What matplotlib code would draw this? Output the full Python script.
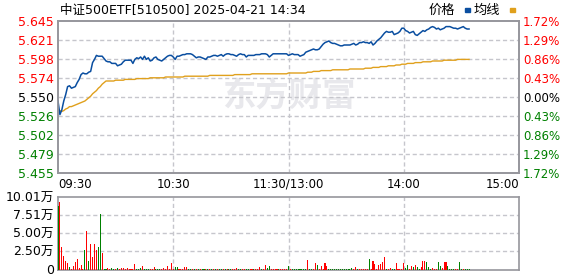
"""
Intraday minute chart: price, average price and volume.
"""
import matplotlib
matplotlib.use('Agg')
import matplotlib.pyplot as plt
from matplotlib.patches import Rectangle
import numpy as np

plt.rcParams['font.family'] = ['DejaVu Sans', 'Noto Sans CJK SC']

###############################################################################
# Data (one point per minute from 09:30 to 14:34).

title = '中证500ETF[510500] 2025-04-21 14:34'
pre_close = 5.550

price = [
    5.545, 5.528, 5.534, 5.545, 5.553, 5.563, 5.564, 5.561, 5.562, 5.563,
    5.568, 5.572, 5.578, 5.580, 5.579, 5.579, 5.581, 5.582, 5.593, 5.597,
    5.602, 5.601, 5.601, 5.601, 5.598, 5.595, 5.594, 5.594, 5.592, 5.592,
    5.592, 5.589, 5.590, 5.591, 5.594, 5.596, 5.596, 5.596, 5.596, 5.592,
    5.597, 5.599, 5.598, 5.600, 5.597, 5.601, 5.597, 5.599, 5.595, 5.596,
    5.599, 5.600, 5.597, 5.596, 5.595, 5.597, 5.599, 5.601, 5.602, 5.602,
    5.600, 5.597, 5.601, 5.601, 5.602, 5.603, 5.603, 5.604, 5.604, 5.604,
    5.603, 5.601, 5.599, 5.600, 5.600, 5.599, 5.598, 5.597, 5.600, 5.600,
    5.601, 5.602, 5.602, 5.601, 5.602, 5.603, 5.601, 5.603, 5.604, 5.604,
    5.603, 5.603, 5.602, 5.601, 5.603, 5.604, 5.603, 5.603, 5.600, 5.602,
    5.602, 5.602, 5.602, 5.603, 5.603, 5.603, 5.604, 5.604, 5.604, 5.603,
    5.600, 5.602, 5.604, 5.604, 5.604, 5.604, 5.604, 5.604, 5.604, 5.604,
    5.602, 5.603, 5.604, 5.603, 5.603, 5.603, 5.601, 5.602, 5.603, 5.606,
    5.607, 5.608, 5.609, 5.610, 5.609, 5.609, 5.610, 5.613, 5.616, 5.618,
    5.619, 5.620, 5.618, 5.617, 5.617, 5.616, 5.615, 5.614, 5.614, 5.615,
    5.615, 5.615, 5.615, 5.616, 5.617, 5.615, 5.616, 5.618, 5.618, 5.619,
    5.618, 5.618, 5.617, 5.619, 5.615, 5.617, 5.620, 5.622, 5.624, 5.627,
    5.630, 5.632, 5.631, 5.631, 5.632, 5.628, 5.629, 5.630, 5.632, 5.636,
    5.636, 5.633, 5.632, 5.630, 5.631, 5.632, 5.628, 5.627, 5.629, 5.631,
    5.633, 5.632, 5.634, 5.635, 5.637, 5.638, 5.637, 5.635, 5.636, 5.634,
    5.635, 5.636, 5.638, 5.638, 5.638, 5.637, 5.636, 5.636, 5.635, 5.636,
    5.637, 5.638, 5.636, 5.635, 5.635,
]

avg_price = [
    5.534, 5.533, 5.532, 5.533, 5.535, 5.536, 5.538, 5.538, 5.539, 5.540,
    5.541, 5.542, 5.543, 5.544, 5.545, 5.547, 5.549, 5.551, 5.554, 5.556,
    5.558, 5.561, 5.563, 5.566, 5.568, 5.570, 5.570, 5.570, 5.570, 5.570,
    5.571, 5.571, 5.571, 5.571, 5.571, 5.572, 5.572, 5.572, 5.572, 5.572,
    5.572, 5.573, 5.573, 5.573, 5.573, 5.573, 5.573, 5.573, 5.574, 5.574,
    5.574, 5.574, 5.574, 5.574, 5.574, 5.574, 5.575, 5.575, 5.575, 5.575,
    5.575, 5.575, 5.575, 5.575, 5.575, 5.575, 5.576, 5.576, 5.576, 5.576,
    5.576, 5.576, 5.576, 5.576, 5.576, 5.576, 5.576, 5.576, 5.576, 5.577,
    5.577, 5.577, 5.577, 5.577, 5.577, 5.577, 5.577, 5.577, 5.577, 5.577,
    5.577, 5.577, 5.578, 5.578, 5.578, 5.578, 5.578, 5.578, 5.578, 5.578,
    5.578, 5.579, 5.579, 5.579, 5.579, 5.579, 5.579, 5.579, 5.579, 5.579,
    5.579, 5.579, 5.579, 5.579, 5.579, 5.579, 5.579, 5.579, 5.579, 5.579,
    5.580, 5.580, 5.580, 5.580, 5.580, 5.580, 5.580, 5.580, 5.580, 5.580,
    5.581, 5.581, 5.581, 5.582, 5.582, 5.582, 5.582, 5.583, 5.583, 5.583,
    5.583, 5.583, 5.583, 5.584, 5.584, 5.584, 5.584, 5.584, 5.584, 5.584,
    5.584, 5.584, 5.585, 5.585, 5.585, 5.585, 5.585, 5.585, 5.585, 5.585,
    5.586, 5.586, 5.586, 5.586, 5.587, 5.587, 5.587, 5.587, 5.588, 5.588,
    5.588, 5.588, 5.589, 5.589, 5.589, 5.589, 5.590, 5.590, 5.590, 5.591,
    5.591, 5.591, 5.592, 5.592, 5.592, 5.592, 5.593, 5.593, 5.593, 5.593,
    5.594, 5.594, 5.594, 5.594, 5.594, 5.595, 5.595, 5.595, 5.595, 5.595,
    5.595, 5.596, 5.596, 5.596, 5.596, 5.596, 5.596, 5.596, 5.597, 5.597,
    5.597, 5.597, 5.597, 5.597, 5.597,
]

# volume in 万 (10k shares); R = up minute, G = down minute
volume = [
    8.66, 9.26, 3.10, 1.85, 1.16, 0.83, 0.32, 0.09, 0.46, 1.00,
    1.46, 0.23, 0.60, 0.05, 2.69, 5.32, 1.16, 3.56, 1.71, 3.56,
    2.69, 3.10, 7.55, 2.31, 0.09, 0.05, 0.14, 0.05, 0.23, 0.09,
    0.05, 0.23, 0.09, 0.14, 0.14, 0.05, 0.14, 0.09, 0.05, 0.09,
    0.79, 0.05, 0.05, 0.14, 0.50, 0.05, 0.05, 0.05, 0.09, 0.09,
    0.37, 0.05, 0.05, 0.05, 0.09, 0.14, 0.10, 0.46, 0.10, 0.83,
    0.05, 0.32, 0.32, 0.09, 0.05, 0.09, 0.32, 0.32, 0.05, 0.05,
    0.05, 0.09, 0.05, 0.05, 0.09, 0.05, 0.05, 0.09, 0.05, 0.05,
    0.09, 0.05, 0.05, 0.09, 0.05, 0.05, 0.09, 0.05, 0.05, 0.05,
    0.05, 0.09, 0.05, 0.20, 0.05, 0.05, 0.09, 0.05, 0.09, 0.05,
    0.05, 0.09, 0.05, 0.05, 0.09, 0.37, 0.05, 0.09, 0.56, 0.14,
    0.42, 0.05, 0.09, 0.05, 0.09, 0.05, 0.09, 0.05, 0.09, 0.05,
    0.46, 0.10, 0.05, 0.05, 0.05, 0.05, 0.05, 0.05, 0.05, 0.05,
    1.30, 0.05, 0.10, 0.10, 0.88, 0.60, 0.05, 0.46, 0.10, 0.88,
    0.46, 0.10, 0.05, 0.05, 0.05, 0.05, 0.05, 0.05, 0.05, 0.05,
    0.05, 0.05, 0.05, 0.19, 0.05, 0.37, 0.05, 0.10, 0.05, 0.05,
    0.05, 0.05, 1.44, 0.05, 1.16, 0.74, 0.05, 0.60, 0.74, 1.02,
    1.71, 0.05, 0.05, 0.19, 0.10, 0.05, 0.88, 0.05, 0.10, 0.10,
    0.88, 0.19, 0.60, 0.05, 0.46, 0.37, 0.60, 0.32, 0.05, 0.32,
    1.16, 1.16, 1.02, 0.32, 0.05, 0.19, 0.05, 0.05, 1.02, 0.46,
    0.19, 1.02, 1.02, 0.46, 0.05, 0.05, 0.10, 0.05, 0.05, 1.02,
    0.05, 0.05, 0.05, 0.05, 0.05,
]
vol_dir = ('GRRRRRGRRR' 'RRRRGRGRRR' 'RGGRGGRRGG' 'RGRRRRRRRR'
           'RGGGRGGGRR' 'RGGGRRRRRR' 'RGGRRRRRGG' 'RGRGRGGRGR'
           'GRGRGGRGRG' 'GRRRGGRRGG' 'RRGRRRGRRG' 'GRRRRGRRRR'
           'GRGGGGGGGG' 'RGGRRGRRRR' 'RGGGGGGGGG' 'GGGGRRGRRR'
           'RRGRRRRRRR' 'RGRRGGRRRR' 'RGGRRGRGGR' 'RRGGGRRRGG'
           'RRRGGGGRRG' 'GRGGG')

price_ticks = ['5.455', '5.479', '5.502', '5.526', '5.550',
               '5.574', '5.598', '5.621', '5.645']
pct_ticks = ['1.72%', '1.29%', '0.86%', '0.43%', '0.00%',
             '0.43%', '0.86%', '1.29%', '1.72%']
vol_ticks = ['0', '2.50万', '5.00万', '7.51万', '10.01万']
time_ticks = ['09:30', '10:30', '11:30/13:00', '14:00', '15:00']

###############################################################################
# Styles

RED = '#ff0000'
GREEN = '#008000'
BLUE = '#0a4ea0'
ORANGE = '#e0a01c'
FRAME = '#96969c'
GRID = '#c6c6cc'
DASH = (0, (3, 2))

n_total = 241
t = np.arange(len(price))
ymin, ymax = float(price_ticks[0]), float(price_ticks[-1])
ylev = np.linspace(ymin, ymax, len(price_ticks))

fig = plt.figure(figsize=(5.78, 2.76), dpi=100)
ax = fig.add_axes([58 / 578, 1 - 173 / 276, 461 / 578, 152 / 276])
axv = fig.add_axes([58 / 578, 1 - 269.5 / 276, 461 / 578, 73 / 276])


def level_color(v):
    if v > pre_close + 1e-6:
        return RED
    if v < pre_close - 1e-6:
        return GREEN
    return 'black'


# grid
for y in ylev[1:-1]:
    ax.plot([0, n_total - 1], [y, y], color=GRID, lw=1.0, ls=DASH, zorder=2)
for x in (60, 120, 180):
    ax.plot([x, x], [ymin, ymax], color=GRID, lw=1.0, ls=DASH, zorder=2)

ax.plot(t, avg_price, color=ORANGE, lw=1.0, zorder=3)
ax.plot(t, price, color=BLUE, lw=1.1, zorder=4)

ax.set_xlim(0, n_total - 1)
ax.set_ylim(ymin, ymax)
ax.set_yticks(ylev)
ax.set_yticklabels(price_ticks, fontsize=9)
for v, lab in zip(ylev, ax.get_yticklabels()):
    lab.set_color(level_color(v))
ax.set_xticks([])
ax.tick_params(length=0, pad=3)
for s in ax.spines.values():
    s.set_color(FRAME)
    s.set_linewidth(1.2)

axr = ax.twinx()
axr.set_ylim(ymin, ymax)
axr.set_yticks(ylev)
axr.set_yticklabels(pct_ticks, fontsize=8.5)
for v, lab in zip(ylev, axr.get_yticklabels()):
    lab.set_color(level_color(v))
axr.tick_params(length=0, pad=3)
for s in axr.spines.values():
    s.set_color(FRAME)
    s.set_linewidth(1.2)

# time labels under the price panel
tpos = [0, 60, 120, 180, 240]
aligns = ['left', 'center', 'center', 'center', 'right']
for x, lab, ha in zip(tpos, time_ticks, aligns):
    ax.text(x, -0.075, lab, transform=ax.get_xaxis_transform(),
            ha=ha, va='center', fontsize=8.5)

# volume panel
vmax = 10.01
vlev = np.linspace(0, vmax, len(vol_ticks))
for y in vlev[1:-1]:
    axv.plot([0, n_total - 1], [y, y], color=GRID, lw=1.0, ls=DASH, zorder=2)
for x in (60, 120, 180):
    axv.plot([x, x], [0, vmax], color=GRID, lw=1.0, ls=DASH, zorder=2)
colors = [RED if d == 'R' else GREEN for d in vol_dir]
axv.bar(t, volume, width=0.55, color=colors, zorder=3)
axv.set_xlim(0, n_total - 1)
axv.set_ylim(0, vmax)
axv.set_yticks(vlev)
axv.set_yticklabels(vol_ticks, fontsize=9)
axv.set_xticks([])
axv.tick_params(length=0, pad=3)
for s in axv.spines.values():
    s.set_color(FRAME)
    s.set_linewidth(1.2)

# title and legend
fig.text(60 / 578, 1 - 10 / 276, title, ha='left', va='center', fontsize=9)
fig.text(455 / 578, 1 - 10 / 276, '价格', ha='right', va='center',
         fontsize=9.5, family=['Noto Sans CJK SC'])
fig.text(500 / 578, 1 - 10 / 276, '均线', ha='right', va='center',
         fontsize=9.5, family=['Noto Sans CJK SC'])
fig.add_artist(Rectangle((465 / 578, 1 - 12 / 276), 5 / 578, 4 / 276,
                         transform=fig.transFigure, color=BLUE))
fig.add_artist(Rectangle((510 / 578, 1 - 12 / 276), 5 / 578, 4 / 276,
                         transform=fig.transFigure, color=ORANGE))

# watermark, drawn last but faint and below the data
ax.text(0.50, 0.50, '东方财富', transform=ax.transAxes, ha='center',
        va='center', fontsize=24, fontweight='bold', color='#e8e8ec',
        family=['Noto Sans CJK SC'], zorder=0)

fig.savefig('out.png', dpi=100)
